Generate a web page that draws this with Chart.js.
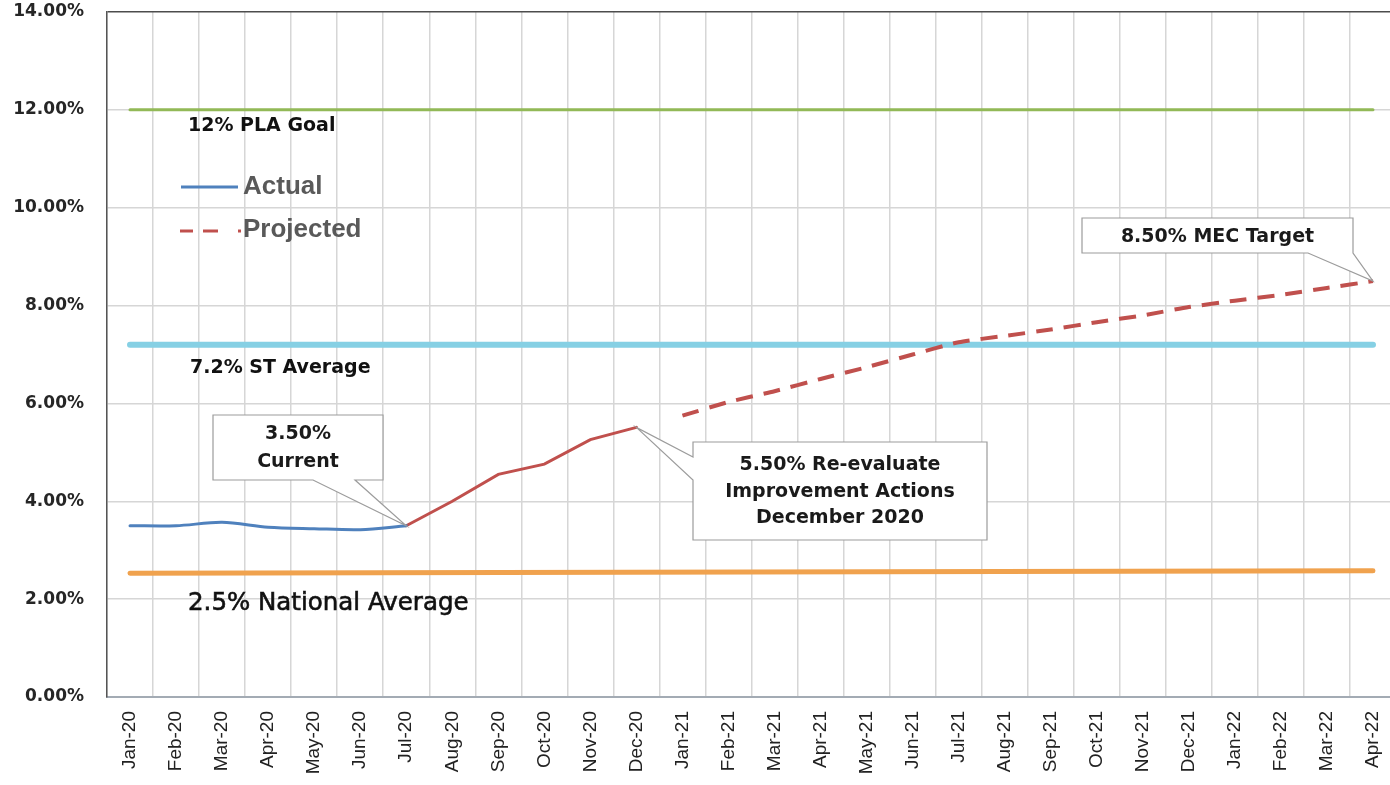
<!DOCTYPE html>
<html>
<head>
<meta charset="utf-8">
<script src="https://cdn.jsdelivr.net/npm/chart.js@4.4.1/dist/chart.umd.min.js"></script>
<style>
html,body{margin:0;padding:0;background:#fff;overflow:hidden;width:1390px;height:785px}
#wrap{position:absolute;left:0;top:0;width:1396px;height:785px}
</style>
</head>
<body>
<div id="wrap"><canvas id="c"></canvas></div>
<script>
// ---- data ----
const categories = ['Jan-20','Feb-20','Mar-20','Apr-20','May-20','Jun-20','Jul-20','Aug-20','Sep-20','Oct-20','Nov-20','Dec-20',
  'Jan-21','Feb-21','Mar-21','Apr-21','May-21','Jun-21','Jul-21','Aug-21','Sep-21','Oct-21','Nov-21','Dec-21',
  'Jan-22','Feb-22','Mar-22','Apr-22'];
const actualValues = [3.50, 3.50, 3.57, 3.47, 3.44, 3.42, 3.50];          // Jan-20 .. Jul-20
const actualStart = 0;
const improvingValues = [3.50, 4.00, 4.55, 4.76, 5.26, 5.51];             // Jul-20 .. Dec-20
const improvingStart = 6;
const projectedValues = [5.75, 6.03, 6.25, 6.50, 6.74, 7.00, 7.25, 7.38,
  7.51, 7.66, 7.80, 7.97, 8.10, 8.22, 8.36, 8.50];                         // Jan-21 .. Apr-22
const projectedStart = 12;
const plaGoal = [12.0, 12.0];          // first & last month
const stAverage = [7.2, 7.2];          // first & last month
const nationalAverage = [2.53, 2.58];  // first & last month
const yTicks = [0, 2, 4, 6, 8, 10, 12, 14];

// ---- helpers ----
const N = categories.length;
function place(values, start) {
  const a = new Array(N).fill(null);
  values.forEach((v, i) => { a[start + i] = v; });
  return a;
}
function ends(pair) {
  const a = new Array(N).fill(null);
  a[0] = pair[0]; a[N - 1] = pair[1];
  return a;
}

const BLUE = '#4f81bd', RED = '#c0504d', GREEN = '#92b957', CYAN = '#86d0e4', ORANGE = '#f0a24e';

const datasets = [
  {label: '12% PLA Goal', data: ends(plaGoal), borderColor: GREEN, borderWidth: 3, spanGaps: true, pointRadius: 0, borderCapStyle: 'round', order: 5},
  {label: '7.2% ST Average', data: ends(stAverage), borderColor: CYAN, borderWidth: 6, spanGaps: true, pointRadius: 0, borderCapStyle: 'round', order: 5},
  {label: '2.5% National Average', data: ends(nationalAverage), borderColor: ORANGE, borderWidth: 5, spanGaps: true, pointRadius: 0, borderCapStyle: 'round', order: 5},
  {label: 'Actual', data: place(actualValues, actualStart), borderColor: BLUE, borderWidth: 3, pointRadius: 0, tension: 0.3, borderCapStyle: 'round', order: 1},
  {label: 'Improving', data: place(improvingValues, improvingStart), borderColor: RED, borderWidth: 3, pointRadius: 0, tension: 0, borderCapStyle: 'round', order: 1},
  {label: 'Projected', data: place(projectedValues, projectedStart), borderColor: RED, borderWidth: 4, borderDash: [17, 11], pointRadius: 0, tension: 0.2, order: 1}
];

const boldFont = "bold 19px 'DejaVu Sans'";

const overlay = {
  id: 'overlay',
  afterDatasetsDraw(chart) {
    const ctx = chart.ctx;
    const xs = chart.scales.x, ys = chart.scales.y;
    ctx.save();
    // reference line labels
    ctx.fillStyle = '#111';
    ctx.textBaseline = 'middle';
    ctx.textAlign = 'left';
    ctx.font = boldFont;
    ctx.fillText('12% PLA Goal', 188, ys.getPixelForValue(plaGoal[0]) + 16);
    ctx.fillText('7.2% ST Average', 190, ys.getPixelForValue(stAverage[0]) + 23);
    ctx.font = "24.5px 'DejaVu Sans'";
    ctx.strokeStyle = '#111'; ctx.lineWidth = 0.6;
    const ny = ys.getPixelForValue(nationalAverage[0]) + 30;
    ctx.fillText('2.5% National Average', 188, ny);
    ctx.strokeText('2.5% National Average', 188, ny);

    // legend
    ctx.font = "bold 26px 'Liberation Sans'";
    ctx.fillStyle = '#595959';
    ctx.lineCap = 'butt';
    ctx.strokeStyle = datasets[3].borderColor; ctx.lineWidth = 3;
    ctx.beginPath(); ctx.moveTo(181, 187); ctx.lineTo(238, 187); ctx.stroke();
    ctx.fillText('Actual', 243, 187);
    ctx.strokeStyle = datasets[5].borderColor; ctx.lineWidth = 3;
    [[180, 193], [203, 218], [238, 241]].forEach(s => {
      ctx.beginPath(); ctx.moveTo(s[0], 231); ctx.lineTo(s[1], 231); ctx.stroke();
    });
    ctx.fillText('Projected', 243, 230);

    // callouts
    function callout(box, wedge, tip, lines, lineY) {
      ctx.beginPath();
      if (wedge.side === 'bottom') {
        ctx.moveTo(box.l, box.t); ctx.lineTo(box.r, box.t); ctx.lineTo(box.r, box.b);
        ctx.lineTo(wedge.b, box.b); ctx.lineTo(tip.x, tip.y); ctx.lineTo(wedge.a, box.b);
        ctx.lineTo(box.l, box.b); ctx.closePath();
      } else {
        ctx.moveTo(box.l, box.t); ctx.lineTo(box.r, box.t); ctx.lineTo(box.r, box.b);
        ctx.lineTo(box.l, box.b); ctx.lineTo(box.l, wedge.b); ctx.lineTo(tip.x, tip.y);
        ctx.lineTo(box.l, wedge.a); ctx.closePath();
      }
      ctx.fillStyle = '#fff'; ctx.fill();
      ctx.strokeStyle = '#9c9c9c'; ctx.lineWidth = 1.2; ctx.lineJoin = 'miter'; ctx.stroke();
      ctx.fillStyle = '#1a1a1a'; ctx.textAlign = 'center'; ctx.font = boldFont;
      const cx = (box.l + box.r) / 2;
      lines.forEach((t, i) => ctx.fillText(t, cx, lineY[i]));
    }
    const t1 = {x: xs.getPixelForValue(actualStart + actualValues.length - 1), y: ys.getPixelForValue(actualValues[actualValues.length - 1])};
    callout({l: 213, t: 415, r: 383, b: 480}, {side: 'bottom', a: 313, b: 355}, t1, ['3.50%', 'Current'], [434, 462]);
    const t2 = {x: xs.getPixelForValue(improvingStart + improvingValues.length - 1), y: ys.getPixelForValue(improvingValues[improvingValues.length - 1])};
    callout({l: 693, t: 442, r: 987, b: 540}, {side: 'left', a: 457, b: 480}, t2, ['5.50% Re-evaluate', 'Improvement Actions', 'December 2020'], [465, 492, 518]);
    const t3 = {x: xs.getPixelForValue(projectedStart + projectedValues.length - 1), y: ys.getPixelForValue(projectedValues[projectedValues.length - 1])};
    callout({l: 1082, t: 218, r: 1353, b: 253}, {side: 'bottom', a: 1308, b: 1353}, t3, ['8.50% MEC Target'], [237]);
    ctx.restore();
  }
};

new Chart(document.getElementById('c'), {
  type: 'line',
  data: {labels: categories, datasets: datasets},
  options: {
    responsive: true,
    maintainAspectRatio: false,
    animation: false,
    layout: {padding: {top: 12, left: 0, right: 0, bottom: 0}},
    plugins: {legend: {display: false}, tooltip: {enabled: false}},
    scales: {
      x: {
        type: 'category',
        offset: true,
        grid: {offset: true, color: '#d6d6d6', lineWidth: 1.5, drawTicks: false},
        border: {color: '#a3abb4', width: 2},
        ticks: {autoSkip: false, minRotation: 90, maxRotation: 90, padding: 14,
          color: '#222', font: {family: "'Liberation Sans'", size: 19}},
        afterFit(s) { s.height = 88; s.paddingLeft = 0; s.paddingRight = 0; }
      },
      y: {
        min: yTicks[0], max: yTicks[yTicks.length - 1],
        afterBuildTicks(s) { s.ticks = yTicks.map(v => ({value: v})); },
        grid: {drawTicks: false, lineWidth: 1.5,
          color: c => (c.tick && c.tick.value === yTicks[yTicks.length - 1]) ? '#4d4d4d' : '#d6d6d6'},
        border: {color: '#555', width: 1.5},
        ticks: {padding: 23, color: '#262626', font: {family: "'DejaVu Sans'", size: 17, weight: 'bold'},
          callback: v => Number(v).toFixed(2) + '%'},
        afterFit(s) { s.width = 107; s.paddingTop = 0; s.paddingBottom = 0; }
      }
    }
  },
  plugins: [overlay]
});
</script>
</body>
</html>
